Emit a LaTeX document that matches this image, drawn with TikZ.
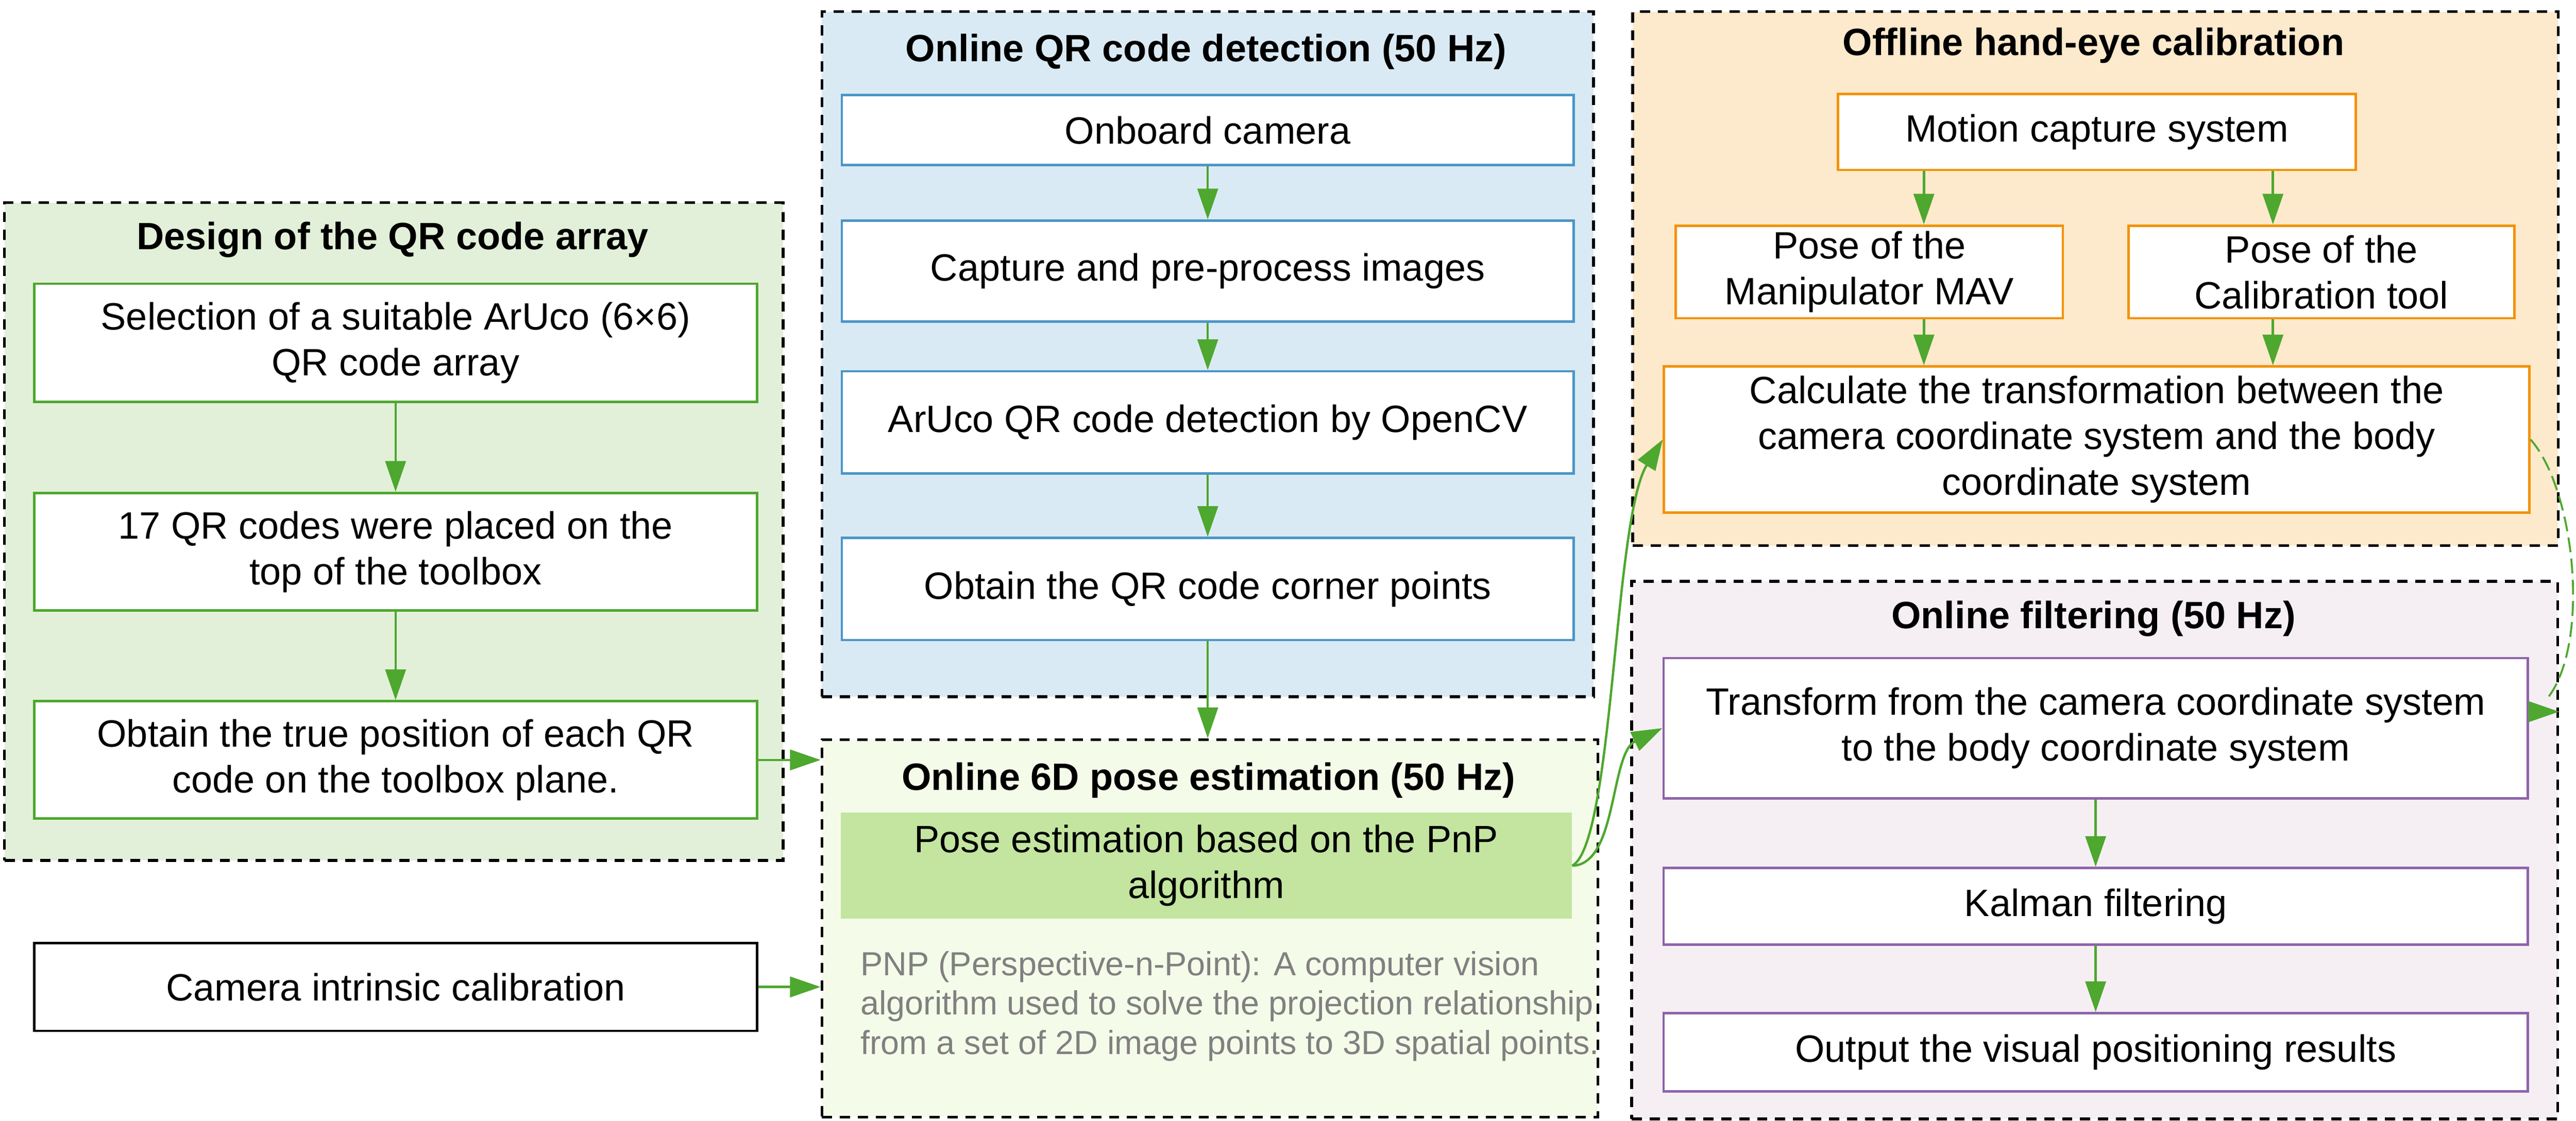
\documentclass[tikz,border=0pt]{standalone}
\usepackage{fontspec}
\setmainfont{Liberation Sans}
\usepackage{xcolor}
\usepackage{tikz}
\usetikzlibrary{arrows.meta}

\definecolor{flowgreen}{HTML}{4EA72E}
\definecolor{designfill}{HTML}{E2F0D9}
\definecolor{detectfill}{HTML}{DAEAF4}
\definecolor{detectline}{HTML}{4A96C8}
\definecolor{posefill}{HTML}{F5FBE9}
\definecolor{pnpfill}{HTML}{C3E5A0}
\definecolor{calibfill}{HTML}{FDE9CC}
\definecolor{calibline}{HTML}{F39200}
\definecolor{filterfill}{HTML}{F5EFF4}
\definecolor{filterline}{HTML}{8E64AA}
\definecolor{notegrey}{HTML}{808080}

\begin{document}
\begin{tikzpicture}[
    font=\fontsize{13.8}{16.6}\selectfont,
    group/.style={draw=black, line width=1pt, dash pattern=on 3.7pt off 2.8pt, anchor=north west, inner sep=0pt},
    grouptitle/.style={font=\fontsize{13.8}{16.6}\selectfont\bfseries},
    box/.style={draw, fill=white, line width=0.9pt, align=center, inner sep=2pt},
    flow/.style={draw=flowgreen, line width=0.85pt, -{Triangle[length=0.39cm, width=0.26cm]}},
  ]
  \path[use as bounding box, fill=white] (0,0) rectangle (32.805,-14.28);

  % groups
  \node[group, fill=designfill, minimum width=9.915cm, minimum height=8.38cm] (design) at (0.04,-2.565) {};
  \node[group, fill=detectfill, minimum width=9.825cm, minimum height=8.73cm] (detect) at (10.45,-0.13) {};
  \node[group, fill=posefill, minimum width=9.88cm, minimum height=4.81cm] (pose) at (10.45,-9.405) {};
  \node[group, fill=calibfill, minimum width=11.785cm, minimum height=6.805cm] (handeye) at (20.775,-0.13) {};
  \node[group, fill=filterfill, minimum width=11.795cm, minimum height=6.85cm] (filtering) at (20.76,-7.39) {};

  \node[grouptitle] (designtitle) at (5.0,-3.055) {Design of the QR code array};
  \node[grouptitle] (detecttitle) at (15.36,-0.66) {Online QR code detection (50 Hz)};
  \node[grouptitle] (posetitle) at (15.39,-9.94) {Online 6D pose estimation (50 Hz)};
  \node[grouptitle] (handeyetitle) at (26.66,-0.58) {Offline hand-eye calibration};
  \node[grouptitle] (filteringtitle) at (26.66,-7.88) {Online filtering (50 Hz)};

  % design of the array
  \node[box, draw=flowgreen, minimum width=9.205cm, minimum height=1.505cm] (select) at (5.0375,-4.3675) {Selection of a suitable ArUco (6×6)\\QR code array};
  \node[box, draw=flowgreen, minimum width=9.205cm, minimum height=1.5cm] (place) at (5.0375,-7.03) {17 QR codes were placed on the\\top of the toolbox};
  \node[box, draw=flowgreen, minimum width=9.205cm, minimum height=1.495cm] (truepos) at (5.0375,-9.6825) {Obtain the true position of each QR\\code on the toolbox plane.};
  \node[box, draw=black, minimum width=9.205cm, minimum height=1.12cm] (intrinsic) at (5.0375,-12.575) {Camera intrinsic calibration};

  % detection
  \node[box, draw=detectline, minimum width=9.32cm, minimum height=0.895cm] (onboard) at (15.38,-1.6575) {Onboard camera};
  \node[box, draw=detectline, minimum width=9.32cm, minimum height=1.285cm] (capture) at (15.38,-3.4525) {Capture and pre-process images};
  \node[box, draw=detectline, minimum width=9.32cm, minimum height=1.305cm] (aruco) at (15.38,-5.3825) {ArUco QR code detection by OpenCV};
  \node[box, draw=detectline, minimum width=9.32cm, minimum height=1.3cm] (corners) at (15.38,-7.505) {Obtain the QR code corner points};

  % pose estimation
  \node[fill=pnpfill, align=center, minimum width=9.31cm, minimum height=1.35cm] (pnp) at (15.36,-11.03) {Pose estimation based on the PnP\\algorithm};
  \node[anchor=west, align=left, inner sep=0pt, text=notegrey, font=\fontsize{12.1}{14.3}\selectfont] (pnpnote) at (10.95,-12.82) {PNP (Perspective-n-Point): A computer vision\\algorithm used to solve the projection relationship\\from a set of 2D image points to 3D spatial points.};

  % hand-eye calibration
  \node[box, draw=calibline, minimum width=6.595cm, minimum height=0.97cm] (mocap) at (26.7025,-1.68) {Motion capture system};
  \node[box, draw=calibline, minimum width=4.93cm, minimum height=1.18cm] (mav) at (23.805,-3.465) {Pose of the\\Manipulator MAV};
  \node[box, draw=calibline, minimum width=4.915cm, minimum height=1.18cm] (tool) at (29.5625,-3.465) {Pose of the\\Calibration tool};
  \node[box, draw=calibline, minimum width=11.02cm, minimum height=1.86cm] (calc) at (26.7,-5.6) {Calculate the transformation between the\\camera coordinate system and the body\\coordinate system};

  % filtering
  \node[box, draw=filterline, minimum width=11.005cm, minimum height=1.785cm] (transform) at (26.6875,-9.2775) {Transform from the camera coordinate system\\to the body coordinate system};
  \node[box, draw=filterline, minimum width=11.005cm, minimum height=0.975cm] (kalman) at (26.6875,-11.5475) {Kalman filtering};
  \node[box, draw=filterline, minimum width=11.005cm, minimum height=0.995cm] (output) at (26.6875,-13.4075) {Output the visual positioning results};

  % connectors
  \draw[flow] (select) -- (place);
  \draw[flow] (place) -- (truepos);
  \draw[flow] (truepos.east) -- (truepos.east -| pose.west);
  \draw[flow] (intrinsic.east) -- (intrinsic.east -| pose.west);
  \draw[flow] (onboard) -- (capture);
  \draw[flow] (capture) -- (aruco);
  \draw[flow] (aruco) -- (corners);
  \draw[flow] (corners.south) -- (corners.south |- pose.north);

  \coordinate (lefttap) at (24.5,0);
  \coordinate (righttap) at (28.945,0);
  \draw[flow] (mocap.south -| lefttap) -- (mav.north -| lefttap);
  \draw[flow] (mocap.south -| righttap) -- (tool.north -| righttap);
  \draw[flow] (mav.south -| lefttap) -- (calc.north -| lefttap);
  \draw[flow] (tool.south -| righttap) -- (calc.north -| righttap);

  \draw[flow] (pnp.east) .. controls (20.55,-10.75) and (20.55,-6.6) .. (calc.west);
  \draw[flow] (pnp.east) .. controls (20.6,-11.02) and (20.5,-9.6) .. (transform.west);

  \draw[flow] (transform) -- (kalman);
  \draw[flow] (kalman) -- (output);

  \coordinate (hook) at ([xshift=0.21cm, yshift=0.35cm]transform.east);
  \draw[flowgreen, line width=0.7pt, dash pattern=on 5.4pt off 2.3pt] (calc.east) .. controls (32.8,-6.25) and (33.0,-8.25) .. (hook);
  \draw[flow] ([yshift=0.21cm]transform.east) -- ([yshift=0.21cm]transform.east -| filtering.east);
\end{tikzpicture}
\end{document}
